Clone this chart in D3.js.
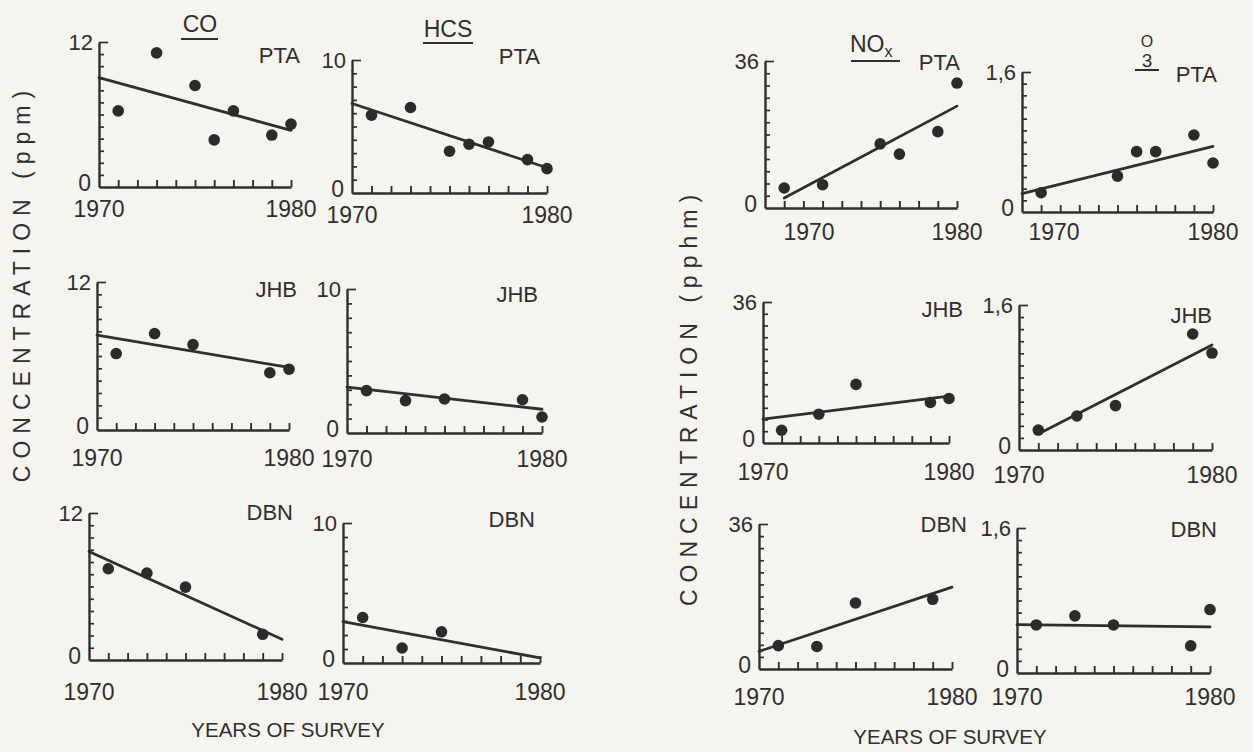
<!DOCTYPE html>
<html>
<head>
<meta charset="utf-8">
<script src="https://cdn.jsdelivr.net/npm/d3@7"></script>
<style>
  html, body { margin: 0; padding: 0; background: #f6f4ef; }
  svg { display: block; }
  text { font-family: "Liberation Sans", Arial, sans-serif; fill: #2f2f2f; }
</style>
</head>
<body>
<svg id="chart" width="1253" height="752"></svg>
<script>
// ---------------- DATA ----------------
const pollutants = ["CO", "HCS", "NOx", "O3"];
const stations = ["PTA", "JHB", "DBN"];
const yMaxValues = [12, 10, 36, 1.6];
const yMaxLabels = ["12", "10", "36", "1,6"];
const yTickIntervals = [12, 10, 12, 12];
const yearDomain = [1970, 1980];
const yearTickLabels = ["1970", "1980"];
const leftAxisTitle = "CONCENTRATION (ppm)";
const rightAxisTitle = "CONCENTRATION (pphm)";
const xAxisTitle = "YEARS OF SURVEY";

// points: years and values per panel; fit = [year, value, year, value]
const coPtaYears = [1971, 1973, 1975, 1976, 1977, 1979, 1980];
const coPtaValues = [6.3, 11.1, 8.4, 3.9, 6.3, 4.3, 5.2];
const coPtaFit = [1970, 9.05, 1980, 4.69];

const hcsPtaYears = [1971, 1973, 1975, 1976, 1977, 1979, 1980];
const hcsPtaValues = [5.85, 6.43, 3.14, 3.67, 3.84, 2.51, 1.83];
const hcsPtaFit = [1970, 6.73, 1980, 1.9];

const coJhbYears = [1971, 1973, 1975, 1979, 1980];
const coJhbValues = [6.2, 7.82, 6.93, 4.64, 4.93];
const coJhbFit = [1970, 7.69, 1980, 5.07];

const hcsJhbYears = [1971, 1973, 1975, 1979, 1980];
const hcsJhbValues = [2.94, 2.25, 2.36, 2.31, 1.11];
const hcsJhbFit = [1970, 3.19, 1980, 1.65];

const coDbnYears = [1971, 1973, 1975, 1979];
const coDbnValues = [7.45, 7.09, 5.95, 2.1];
const coDbnFit = [1970, 8.86, 1980, 1.69];

const hcsDbnYears = [1971, 1973, 1975];
const hcsDbnValues = [3.25, 1.07, 2.23];
const hcsDbnFit = [1970, 2.96, 1980, 0.36];

const noxPtaYears = [1971, 1973, 1976, 1977, 1979, 1980];
const noxPtaValues = [4.9, 5.7, 15.7, 13.2, 18.7, 30.6];
const noxPtaFit = [1971, 2.44, 1980, 24.95];

const o3PtaYears = [1971, 1975, 1976, 1977, 1979, 1980];
const o3PtaValues = [0.22, 0.41, 0.69, 0.69, 0.88, 0.56];
const o3PtaFit = [1970, 0.21, 1980, 0.75];

const noxJhbYears = [1971, 1973, 1975, 1979, 1980];
const noxJhbValues = [3.25, 7.35, 14.96, 10.35, 11.37];
const noxJhbFit = [1970, 6.07, 1980, 11.97];

const o3JhbYears = [1971, 1973, 1975, 1979, 1980];
const o3JhbValues = [0.22, 0.375, 0.49, 1.28, 1.07];
const o3JhbFit = [1971, 0.177, 1980, 1.159];

const noxDbnYears = [1971, 1973, 1975, 1979];
const noxDbnValues = [5.8, 5.6, 16.4, 17.3];
const noxDbnFit = [1970, 4.38, 1980, 20.31];

const o3DbnYears = [1971, 1973, 1975, 1979, 1980];
const o3DbnValues = [0.53, 0.63, 0.53, 0.30, 0.70];
const o3DbnFit = [1970, 0.533, 1980, 0.508];

// ---------------- LAYOUT (positions only) ----------------
// y0: offset of the "1970" label from the axis origin
const panels = [
  {p: 0, s: 0, years: coPtaYears,  values: coPtaValues,  fit: coPtaFit,  box: {x0: 99,   x1: 291,  yTop: 42,  yBot: 187, yr: 217, dx0: 0,  st: [300, 63]}},
  {p: 1, s: 0, years: hcsPtaYears, values: hcsPtaValues, fit: hcsPtaFit, box: {x0: 352,  x1: 547,  yTop: 60,  yBot: 193, yr: 223, dx0: 0,  st: [540, 64]}},
  {p: 0, s: 1, years: coJhbYears,  values: coJhbValues,  fit: coJhbFit,  box: {x0: 97,   x1: 289,  yTop: 282, yBot: 430, yr: 466, dx0: 0,  st: [297, 297]}},
  {p: 1, s: 1, years: hcsJhbYears, values: hcsJhbValues, fit: hcsJhbFit, box: {x0: 347,  x1: 542,  yTop: 289, yBot: 433, yr: 467, dx0: 0,  st: [538, 302]}},
  {p: 0, s: 2, years: coDbnYears,  values: coDbnValues,  fit: coDbnFit,  box: {x0: 89,   x1: 282,  yTop: 513, yBot: 660, yr: 700, dx0: 0,  st: [293, 520]}},
  {p: 1, s: 2, years: hcsDbnYears, values: hcsDbnValues, fit: hcsDbnFit, box: {x0: 343,  x1: 540,  yTop: 523, yBot: 663, yr: 700, dx0: 0,  st: [535, 527]}},
  {p: 2, s: 0, years: noxPtaYears, values: noxPtaValues, fit: noxPtaFit, box: {x0: 765,  x1: 957,  yTop: 61,  yBot: 208, yr: 240, dx0: 44, st: [960, 70]}},
  {p: 3, s: 0, years: o3PtaYears,  values: o3PtaValues,  fit: o3PtaFit,  box: {x0: 1022, x1: 1213, yTop: 72,  yBot: 212, yr: 240, dx0: 32, st: [1217, 82]}},
  {p: 2, s: 1, years: noxJhbYears, values: noxJhbValues, fit: noxJhbFit, box: {x0: 763,  x1: 949,  yTop: 302, yBot: 443, yr: 480, dx0: 0,  st: [963, 317]}},
  {p: 3, s: 1, years: o3JhbYears,  values: o3JhbValues,  fit: o3JhbFit,  box: {x0: 1019, x1: 1212, yTop: 305, yBot: 450, yr: 483, dx0: 0,  st: [1212, 323]}},
  {p: 2, s: 2, years: noxDbnYears, values: noxDbnValues, fit: noxDbnFit, box: {x0: 759,  x1: 952,  yTop: 524, yBot: 669, yr: 705, dx0: 0,  st: [967, 532]}},
  {p: 3, s: 2, years: o3DbnYears,  values: o3DbnValues,  fit: o3DbnFit,  box: {x0: 1017, x1: 1210, yTop: 528, yBot: 673, yr: 705, dx0: 0,  st: [1217, 537]}}
];

const INK = "#2f2f2f";
const svg = d3.select("#chart");
svg.append("rect").attr("width", 1253).attr("height", 752).attr("fill", "#f6f4ef");

panels.forEach(d => {
  const b = d.box;
  const x = d3.scaleLinear().domain(yearDomain).range([b.x0, b.x1]);
  const y = d3.scaleLinear().domain([0, yMaxValues[d.p]]).range([b.yBot, b.yTop]);
  const g = svg.append("g");

  // y axis: ticks pointing inward (right)
  const nI = yTickIntervals[d.p];
  const yTicks = d3.range(1, nI + 1).map(i => i * yMaxValues[d.p] / nI);
  const yAxis = d3.axisRight(y).tickValues(yTicks).tickSize(5).tickSizeOuter(0).tickFormat("");
  const ya = g.append("g").attr("transform", `translate(${b.x0},0)`).call(yAxis);
  ya.select(".domain").attr("stroke", INK).attr("stroke-width", 2.4);
  ya.selectAll(".tick line").attr("stroke", INK).attr("stroke-width", 1.7)
    .attr("x2", (t, i) => i === yTicks.length - 1 ? 9 : 5);

  // x axis: ticks pointing up
  const xAxis = d3.axisTop(x).tickValues(d3.range(1971, 1981)).tickSize(7).tickSizeOuter(0).tickFormat("");
  const xa = g.append("g").attr("transform", `translate(0,${b.yBot})`).call(xAxis);
  xa.select(".domain").attr("stroke", INK).attr("stroke-width", 2.4);
  xa.selectAll(".tick line").attr("stroke", INK).attr("stroke-width", 1.9);

  // axis labels
  g.append("text").attr("x", b.x0 - 6).attr("y", y(yMaxValues[d.p]) + 2)
    .attr("text-anchor", "end").attr("dominant-baseline", "middle")
    .attr("font-size", 22).text(yMaxLabels[d.p]);
  g.append("text").attr("x", b.x0 - 8).attr("y", y(0) - 2)
    .attr("text-anchor", "end").attr("dominant-baseline", "middle")
    .attr("font-size", 23).text("0");
  g.append("text").attr("x", x(yearDomain[0]) + b.dx0).attr("y", b.yr)
    .attr("text-anchor", "middle").attr("font-size", 23).text(yearTickLabels[0]);
  g.append("text").attr("x", x(yearDomain[1])).attr("y", b.yr)
    .attr("text-anchor", "middle").attr("font-size", 23).text(yearTickLabels[1]);

  // station label
  g.append("text").attr("x", b.st[0]).attr("y", b.st[1])
    .attr("text-anchor", "end").attr("font-size", 22).text(stations[d.s]);

  // regression line
  g.append("line")
    .attr("x1", x(d.fit[0])).attr("y1", y(d.fit[1]))
    .attr("x2", x(d.fit[2])).attr("y2", y(d.fit[3]))
    .attr("stroke", INK).attr("stroke-width", 2.8).attr("stroke-linecap", "round");

  // points
  g.selectAll("circle.pt").data(d.years.map((yr, i) => [yr, d.values[i]]))
    .enter().append("circle").attr("class", "pt")
    .attr("cx", v => x(v[0])).attr("cy", v => y(v[1])).attr("r", 5.8)
    .attr("fill", "#2b2b2b");
});

// column titles
function title(txt, cx, base, ulY, ulX0, ulX1, size) {
  svg.append("text").attr("x", cx).attr("y", base).attr("text-anchor", "middle")
    .attr("font-size", size).text(txt);
  svg.append("line").attr("x1", ulX0).attr("x2", ulX1).attr("y1", ulY).attr("y2", ulY)
    .attr("stroke", INK).attr("stroke-width", 2);
}
title(pollutants[0], 200, 32, 39, 181, 218, 23);
title(pollutants[1], 448, 37, 43, 423, 473, 23);
// NOx
const nox = svg.append("text").attr("x", 850).attr("y", 52).attr("font-size", 23);
nox.append("tspan").text("NO");
nox.append("tspan").attr("dy", 5).attr("font-size", 16).text("x");
svg.append("line").attr("x1", 851).attr("x2", 900).attr("y1", 61).attr("y2", 61)
  .attr("stroke", INK).attr("stroke-width", 2);
// O3 (O stacked above a subscript 3)
svg.append("text").attr("x", 1147).attr("y", 47).attr("text-anchor", "middle")
  .attr("font-size", 16).text("O");
svg.append("text").attr("x", 1147).attr("y", 67).attr("text-anchor", "middle")
  .attr("font-size", 19).text("3");
svg.append("line").attr("x1", 1135).attr("x2", 1159).attr("y1", 70).attr("y2", 70)
  .attr("stroke", INK).attr("stroke-width", 2);

// axis titles
svg.append("text").attr("transform", "translate(30,283) rotate(-90)")
  .attr("text-anchor", "middle").attr("font-size", 23).attr("letter-spacing", 7)
  .text(leftAxisTitle);
svg.append("text").attr("transform", "translate(697,397) rotate(-90)")
  .attr("text-anchor", "middle").attr("font-size", 23).attr("letter-spacing", 7)
  .text(rightAxisTitle);
svg.append("text").attr("x", 288).attr("y", 737).attr("text-anchor", "middle")
  .attr("font-size", 20.5).text(xAxisTitle);
svg.append("text").attr("x", 950).attr("y", 744).attr("text-anchor", "middle")
  .attr("font-size", 20.5).text(xAxisTitle);
</script>
</body>
</html>
